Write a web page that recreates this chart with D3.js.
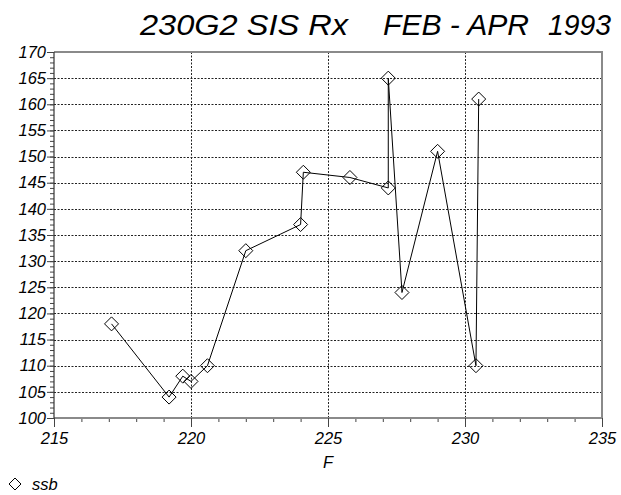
<!DOCTYPE html>
<html>
<head>
<meta charset="utf-8">
<script src="https://cdn.jsdelivr.net/npm/d3@7/dist/d3.min.js"></script>
<style>
  html, body { margin: 0; padding: 0; background: #fff; }
  svg text { font-family: "Liberation Sans", Arial, sans-serif; font-style: italic; fill: #000; }
</style>
</head>
<body>
<svg id="chart" width="621" height="495"></svg>
<script>
// Measured frequency F and the ssb value at each measurement, in time order
const freqF = [217.1, 219.2, 219.7, 220.0, 220.6, 222.0, 224.0, 224.1, 225.8, 227.2, 227.2, 227.7, 229.0, 230.4, 230.5];
const ssb   = [118, 104, 108, 107, 110, 132, 137, 147, 146, 144, 165, 124, 151, 110, 161];

const xTicks = [215, 220, 225, 230, 235];
const yTicks = [100, 105, 110, 115, 120, 125, 130, 135, 140, 145, 150, 155, 160, 165, 170];
const titleParts = ["230G2 SIS Rx", "FEB - APR", "1993"];
const xTitle = "F";
const seriesName = "ssb";

const svg = d3.select("#chart");
const plotL = 54, plotR = 602, plotT = 52, plotB = 418;
const labelSize = 16.5;

const x = d3.scaleLinear().domain([215, 235]).range([plotL, plotR]);
const y = d3.scaleLinear().domain([100, 170]).range([plotB, plotT]);

// Title, set in three spaced pieces
const titleSpans = [[140, 348], [383, 529], [548, 611]];
titleParts.forEach((t, i) => {
  svg.append("text")
    .attr("x", titleSpans[i][0]).attr("y", 35)
    .attr("font-size", 30)
    .attr("textLength", titleSpans[i][1] - titleSpans[i][0])
    .attr("lengthAdjust", "spacingAndGlyphs")
    .text(t);
});

// Dotted grid
const grid = svg.append("g").attr("stroke", "#222").attr("stroke-width", 1).attr("stroke-dasharray", "2,1.5");
grid.selectAll("line.h").data(yTicks.filter(v => v > 100 && v < 170)).join("line")
  .attr("class", "h")
  .attr("x1", plotL).attr("x2", plotR)
  .attr("y1", d => Math.round(y(d)) + 0.5).attr("y2", d => Math.round(y(d)) + 0.5);
grid.selectAll("line.v").data(xTicks.filter(v => v > 215 && v < 235)).join("line")
  .attr("class", "v")
  .attr("y1", plotT).attr("y2", plotB)
  .attr("x1", d => Math.round(x(d)) + 0.5).attr("x2", d => Math.round(x(d)) + 0.5);

// Frame: top and right border
svg.append("path")
  .attr("d", `M${plotL},${plotT}H${plotR}V${plotB}`)
  .attr("fill", "none").attr("stroke", "#8a8a8a").attr("stroke-width", 2);

// Minor ticks every unit
const minorX = d3.axisBottom(x).tickValues(d3.range(215, 236, 1)).tickSize(4).tickFormat("");
const minorY = d3.axisLeft(y).tickValues(d3.range(100, 171, 1)).tickSize(4).tickFormat("");
svg.append("g").attr("transform", `translate(0,${plotB})`).call(minorX)
  .call(g => g.select(".domain").remove())
  .call(g => g.selectAll("line").attr("stroke", "#444"));
svg.append("g").attr("transform", `translate(${plotL},0)`).call(minorY)
  .call(g => g.select(".domain").remove())
  .call(g => g.selectAll("line").attr("stroke", "#444"));

// Major axes with labels
const xAxis = d3.axisBottom(x).tickValues(xTicks).tickSize(9).tickPadding(5).tickFormat(d3.format("d"));
const yAxis = d3.axisLeft(y).tickValues(yTicks).tickSize(7).tickPadding(1).tickFormat(d3.format("d"));
svg.append("g").attr("transform", `translate(0,${plotB})`).call(xAxis)
  .call(g => g.select(".domain").attr("stroke", "#8a8a8a").attr("stroke-width", 2).attr("d", `M${plotL},0H${plotR}`))
  .call(g => g.selectAll("line").attr("stroke", "#444"))
  .call(g => g.selectAll("text").attr("font-family", null).attr("font-size", labelSize).attr("fill", "#000"));
svg.append("g").attr("transform", `translate(${plotL},0)`).call(yAxis)
  .call(g => g.select(".domain").attr("stroke", "#333").attr("stroke-width", 1.2).attr("d", `M0,${plotT}V${plotB}`))
  .call(g => g.selectAll("line").attr("stroke", "#444"))
  .call(g => g.selectAll("text").attr("font-family", null).attr("font-size", labelSize).attr("fill", "#000"));

// Axis title
svg.append("text").attr("x", (plotL + plotR) / 2).attr("y", 468)
  .attr("text-anchor", "middle").attr("font-size", labelSize).text(xTitle);

// Series line and diamond markers
const pts = freqF.map((f, i) => [f, ssb[i]]);
svg.append("path")
  .datum(pts)
  .attr("fill", "none").attr("stroke", "#000").attr("stroke-width", 1)
  .attr("d", d3.line().x(d => x(d[0])).y(d => y(d[1])));

const diamond = r => `M0,${-r}L${r},0L0,${r}L${-r},0Z`;
svg.append("g").selectAll("path").data(pts).join("path")
  .attr("transform", d => `translate(${x(d[0])},${y(d[1])})`)
  .attr("d", diamond(7))
  .attr("fill", "none").attr("stroke", "#000").attr("stroke-width", 1);

// Legend
svg.append("path").attr("transform", "translate(15,484)").attr("d", diamond(6))
  .attr("fill", "none").attr("stroke", "#000").attr("stroke-width", 1);
svg.append("text").attr("x", 32).attr("y", 490).attr("font-size", labelSize).text(seriesName);
</script>
</body>
</html>
